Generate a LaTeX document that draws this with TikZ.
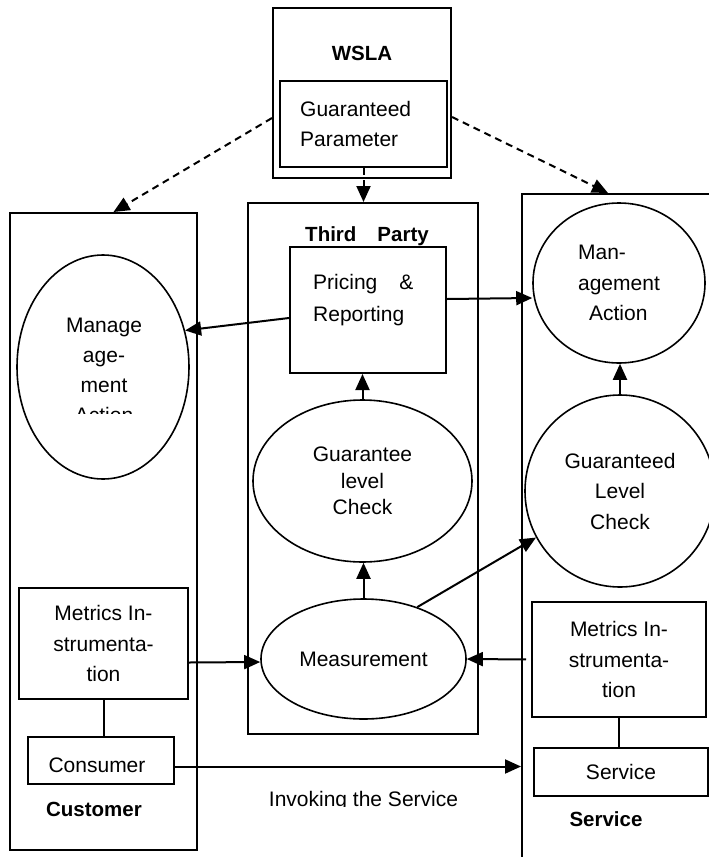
\documentclass[tikz,border=0pt]{standalone}
\usepackage{fontspec}
\setmainfont{Liberation Sans}
\usetikzlibrary{arrows.meta,shapes.geometric}

\tikzset{
  box/.style={draw, line width=2pt, inner sep=0pt, anchor=north west, align=center, font=\fontsize{21}{30.5}\selectfont},
  oval/.style={draw, ellipse, line width=1.6pt, inner sep=0pt, align=center, font=\fontsize{21}{30.5}\selectfont},
  txt/.style={inner sep=0pt, font=\fontsize{21}{30.5}\selectfont},
  heading/.style={inner sep=0pt, font=\fontsize{20.5}{24}\selectfont\bfseries},
  link/.style={line width=2pt, -{Triangle[length=16pt,width=14pt]}},
  dashlink/.style={link, dash pattern=on 7pt off 5pt}
}

\begin{document}
\begin{tikzpicture}[x=1pt,y=-1pt]
  \useasboundingbox (0,0) rectangle (709,857);
  \clip (0,0) rectangle (709,857);

  % WSLA document
  \node[box, minimum width=178pt, minimum height=170pt] (wsla) at (272,7) {};
  \node[heading, anchor=base] (wslalbl) at (362,60) {WSLA};
  \node[box, minimum width=167pt, minimum height=86pt] (gp) at (279,80) {};
  \node[txt, anchor=west, align=left] (gplbl) at (300,124) {Guaranteed\\Parameter};

  % Customer side
  \node[box, minimum width=187pt, minimum height=637pt] (cust) at (9,212) {};
  \node[oval, minimum width=172pt, minimum height=224pt] (mgmtL) at (103,367) {};
  \begin{scope}
    \clip (20,300) rectangle (190,413);
    \node[txt, align=center, font=\fontsize{21}{30}\selectfont] (mgmtLlbl) at (104,370) {Manage\\age-\\ment\\Action};
  \end{scope}
  \node[box, minimum width=169pt, minimum height=111pt] (metL) at (18,587) {Metrics In-\\strumenta-\\tion};
  \node[box, minimum width=146pt, minimum height=47pt] (consumer) at (27,736) {};
  \node[txt, anchor=base] (consumerlbl) at (97,772) {Consumer};
  \node[heading, anchor=base] (custlbl) at (94,816) {Customer};

  % Third party
  \node[box, minimum width=230pt, minimum height=531pt] (third) at (247,202) {};
  \node[heading, anchor=base] (thirdlbl) at (367,241) {Third\hspace{21pt}Party};
  \node[box, minimum width=156pt, minimum height=126pt] (pricing) at (289,246) {};
  \node[txt, anchor=west, align=left] (pricinglbl) at (313,300.5) {Pricing\hspace{22pt}\&\\[1.5pt]Reporting};
  \node[oval, minimum width=219pt, minimum height=162pt, font=\fontsize{21}{26.5}\selectfont] (glcM) at (362.5,481) {Guarantee\\level\\Check};
  \node[oval, minimum width=205pt, minimum height=120pt] (meas) at (363.5,659) {Measurement};

  % Service side
  \node[box, minimum width=300pt, minimum height=700pt] (servbox) at (521,193) {};
  \node[oval, minimum width=172pt, minimum height=160pt, align=left] (mgmtR) at (619,283) {Man-\\agement\\\hspace*{11pt}Action};
  \node[oval, minimum width=190pt, minimum height=192pt] (glcR) at (620,491) {Guaranteed\\Level\\Check};
  \node[box, minimum width=174pt, minimum height=115pt] (metR) at (531,601) {Metrics In-\\strumenta-\\tion};
  \node[box, minimum width=174pt, minimum height=48pt] (service) at (533,747) {Service};
  \node[heading, anchor=base] (servlbl) at (606,826) {Service};

  % Parameters handed out
  \draw[dashlink] (gp.south) -- (gp.south |- third.north);
  \draw[dashlink] ([yshift=-25pt]wsla.west) -- ([xshift=10pt]cust.north);
  \draw[dashlink] ([yshift=-24pt]wsla.east) -- ([xshift=87pt]servbox.north west);

  % Reporting
  \draw[link] ([yshift=-8pt]pricing.west) -- (mgmtL.24);
  \draw[link] ([yshift=11pt]pricing.east) -- ([yshift=-15pt]mgmtR.west);
  \draw[link] (glcM.north) -- (glcM.north |- pricing.south);
  \draw[link] (glcR.north) -- (glcR.north |- mgmtR.south);

  % Measuring
  \draw[link] (meas.north) -- (meas.north |- glcM.south);
  \draw[link] (meas.44) -- (glcR.209);
  \draw[link, shorten <=5pt] (metR.west) -- (meas.east);
  \draw[link] ([yshift=-19pt]metL.east) -- ([yshift=-3pt]meas.west);
  \draw[line width=2pt] (metL.south) -- (metL.south |- consumer.north);
  \draw[line width=2pt] (metR.south) -- (metR.south |- service.north);

  % Invocation
  \draw[link] ([yshift=-6pt]consumer.east) -- ([yshift=-6pt]consumer.east -| servbox.west);
  \begin{scope}
    \clip (200,780) rectangle (515,806);
    \node[txt, anchor=base] (invokelbl) at (363.5,806) {Invoking the Service};
  \end{scope}
\end{tikzpicture}
\end{document}
